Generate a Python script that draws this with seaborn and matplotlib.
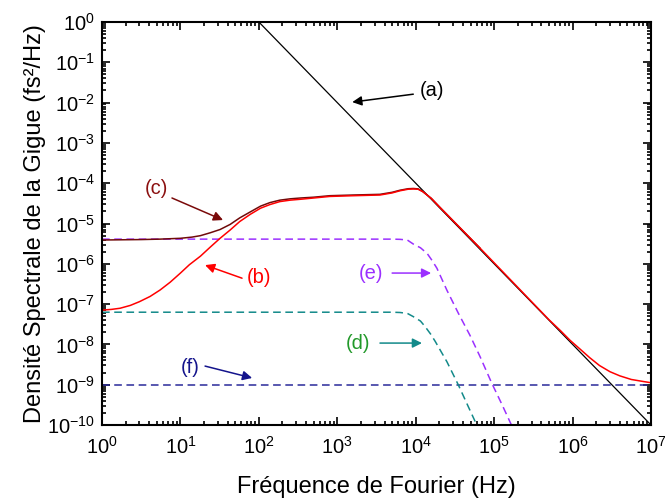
import numpy as np
import matplotlib
matplotlib.use("Agg")
import matplotlib.pyplot as plt
from matplotlib.ticker import LogLocator, NullFormatter
import seaborn as sns

# values (frequency in Hz, PSD in fs^2/Hz)
f_a = [1e2, 1e7]
v_a = [1.0, 1e-10]

f_b = [1, 1.32, 1.7, 2.3, 3.0, 4.1, 5.5, 7.4, 10, 13, 18, 24, 32, 43, 57, 78,
       105, 138, 185, 250, 340, 500, 800, 1600, 3500, 5000, 6300, 8000, 9300,
       10700, 12300, 15800, 20000, 31600, 66000, 5e5, 7e5, 9.3e5, 1.25e6,
       1.65e6, 2.2e6, 3e6, 4e6, 5.6e6, 8e6, 1e7]
v_b = [7.1e-8, 7.4e-8, 7.9e-8, 9.3e-8, 1.15e-7, 1.55e-7, 2.24e-7, 3.5e-7,
       5.9e-7, 9.5e-7, 1.55e-6, 2.6e-6, 4.3e-6, 6.9e-6, 1.12e-5, 1.7e-5,
       2.4e-5, 2.95e-5, 3.5e-5, 3.8e-5, 4.0e-5, 4.3e-5, 4.7e-5, 4.9e-5, 5.1e-5,
       5.75e-5, 6.5e-5, 7.1e-5, 7.2e-5, 7.1e-5, 6.2e-5, 4.2e-5, 2.6e-5,
       1.05e-5, 2.45e-6, 4.1e-8, 2.2e-8, 1.26e-8, 7.6e-9, 4.7e-9, 3.0e-9,
       2.1e-9, 1.66e-9, 1.35e-9, 1.2e-9, 1.12e-9]

f_c = [1, 3.2, 5.5, 10, 14, 18, 24, 32, 43, 57, 78, 105, 138, 185, 250, 340,
       500, 800, 1600, 3500, 5000, 6300, 8000, 9300, 10700, 12300, 15800,
       20000, 31600, 66000]
v_c = [3.9e-6, 4.0e-6, 4.1e-6, 4.3e-6, 4.6e-6, 5.0e-6, 5.9e-6, 7.1e-6,
       9.5e-6, 1.38e-5, 1.95e-5, 2.7e-5, 3.3e-5, 3.8e-5, 4.1e-5, 4.3e-5,
       4.5e-5, 4.9e-5, 5.1e-5, 5.3e-5, 5.95e-5, 6.7e-5, 7.3e-5, 7.4e-5,
       7.25e-5, 6.2e-5, 4.2e-5, 2.6e-5, 1.05e-5, 2.45e-6]

f_d = [1, 5000, 6300, 7800, 9300, 11500, 13200, 15500, 17800, 25000, 35000,
       47000, 60000, 80000]
v_d = [6.3e-8, 6.3e-8, 6.2e-8, 5.9e-8, 4.9e-8, 3.8e-8, 2.75e-8, 1.8e-8,
       1.17e-8, 3.7e-9, 9.8e-10, 2.8e-10, 1.0e-10, 3e-11]

f_e = [1, 5000, 6300, 7800, 9300, 11500, 14000, 16200, 18600, 25000, 35000,
       49000, 66000, 93000, 126000, 166000, 250000]
v_e = [4.1e-6, 4.1e-6, 4.05e-6, 3.9e-6, 3.1e-6, 2.5e-6, 1.8e-6, 1.2e-6,
       7.8e-7, 2.2e-7, 5.9e-8, 1.7e-8, 5.0e-9, 1.1e-9, 3.2e-10, 1.0e-10, 1.5e-11]

f_f = [1, 1e7]
v_f = [1e-9, 1e-9]

plt.rcParams['font.family'] = ['Liberation Sans', 'DejaVu Sans']
plt.rcParams['mathtext.fontset'] = 'custom'
plt.rcParams['mathtext.rm'] = 'Liberation Sans'
plt.rcParams['mathtext.it'] = 'Liberation Sans:italic'
plt.rcParams['mathtext.bf'] = 'Liberation Sans:bold'

fig = plt.figure(figsize=(6.65, 5.04), dpi=100)
ax = fig.add_axes([0.1534, 0.1567, 0.8256, 0.7996])

dash = (0, (5, 3))
sns.lineplot(x=f_a, y=v_a, ax=ax, color='black', lw=0.9)
sns.lineplot(x=f_f, y=v_f, ax=ax, color='#2a2a9a', lw=1.1, linestyle=dash)
sns.lineplot(x=f_d, y=v_d, ax=ax, color='#138a8a', lw=1.1, linestyle=dash)
sns.lineplot(x=f_e, y=v_e, ax=ax, color='#9b30ff', lw=1.1, linestyle=dash)
sns.lineplot(x=f_c, y=v_c, ax=ax, color='#700a0a', lw=1.1)
sns.lineplot(x=f_b, y=v_b, ax=ax, color='#ff0000', lw=1.1)

ax.set_xscale('log')
ax.set_yscale('log')
ax.set_xlim(1, 1e7)
ax.set_ylim(1e-10, 1)

for axis in (ax.xaxis, ax.yaxis):
    axis.set_major_locator(LogLocator(base=10, numticks=30))
    axis.set_minor_locator(LogLocator(base=10, subs=np.arange(2, 10), numticks=300))
    axis.set_minor_formatter(NullFormatter())

ax.tick_params(which='both', direction='in', top=True, right=True,
               width=1.2, color='black')
ax.tick_params(which='major', length=6, labelsize=14.5)
ax.tick_params(which='minor', length=3.2)
ax.tick_params(axis='x', pad=8)
ax.tick_params(axis='y', pad=5)
for s in ax.spines.values():
    s.set_linewidth(1.5)
    s.set_color('black')

ax.set_xlabel("Fréquence de Fourier (Hz)", fontsize=17, labelpad=13)
ax.set_ylabel("Densité Spectrale de la Gigue (fs²/Hz)", fontsize=17, labelpad=1)

# annotations: label text and arrow
arrow = dict(arrowstyle='-|>', lw=1.1, mutation_scale=14, shrinkA=0, shrinkB=0)
labels = [
    ("(a)", (16000, 0.020), (9300, 0.0162), (1550, 0.0103), 'black', 'black'),
    ("(c)", (5.0, 7.6e-5), (7.8, 4.3e-5), (34.9, 1.22e-5), '#8b1010', '#7a0a0a'),
    ("(b)", (100, 4.7e-7), (61, 4.4e-7), (20.6, 9.3e-7), '#ff0000', '#ff0000'),
    ("(e)", (2700, 5.9e-7), (5000, 5.9e-7), (15700, 5.9e-7), '#9b30ff', '#9b30ff'),
    ("(d)", (1840, 1.08e-8), (3500, 1.08e-8), (12000, 1.08e-8), '#22992a', '#138a8a'),
    ("(f)", (13.3, 2.75e-9), (20.6, 2.9e-9), (82, 1.47e-9), '#14148c', '#14148c'),
]
for txt, tpos, tail, head, tcol, acol in labels:
    ax.text(tpos[0], tpos[1], txt, color=tcol, fontsize=14.5, ha='center', va='center')
    ax.annotate('', xy=head, xytext=tail, arrowprops=dict(arrow, color=acol))

fig.savefig("out.png", dpi=100)
